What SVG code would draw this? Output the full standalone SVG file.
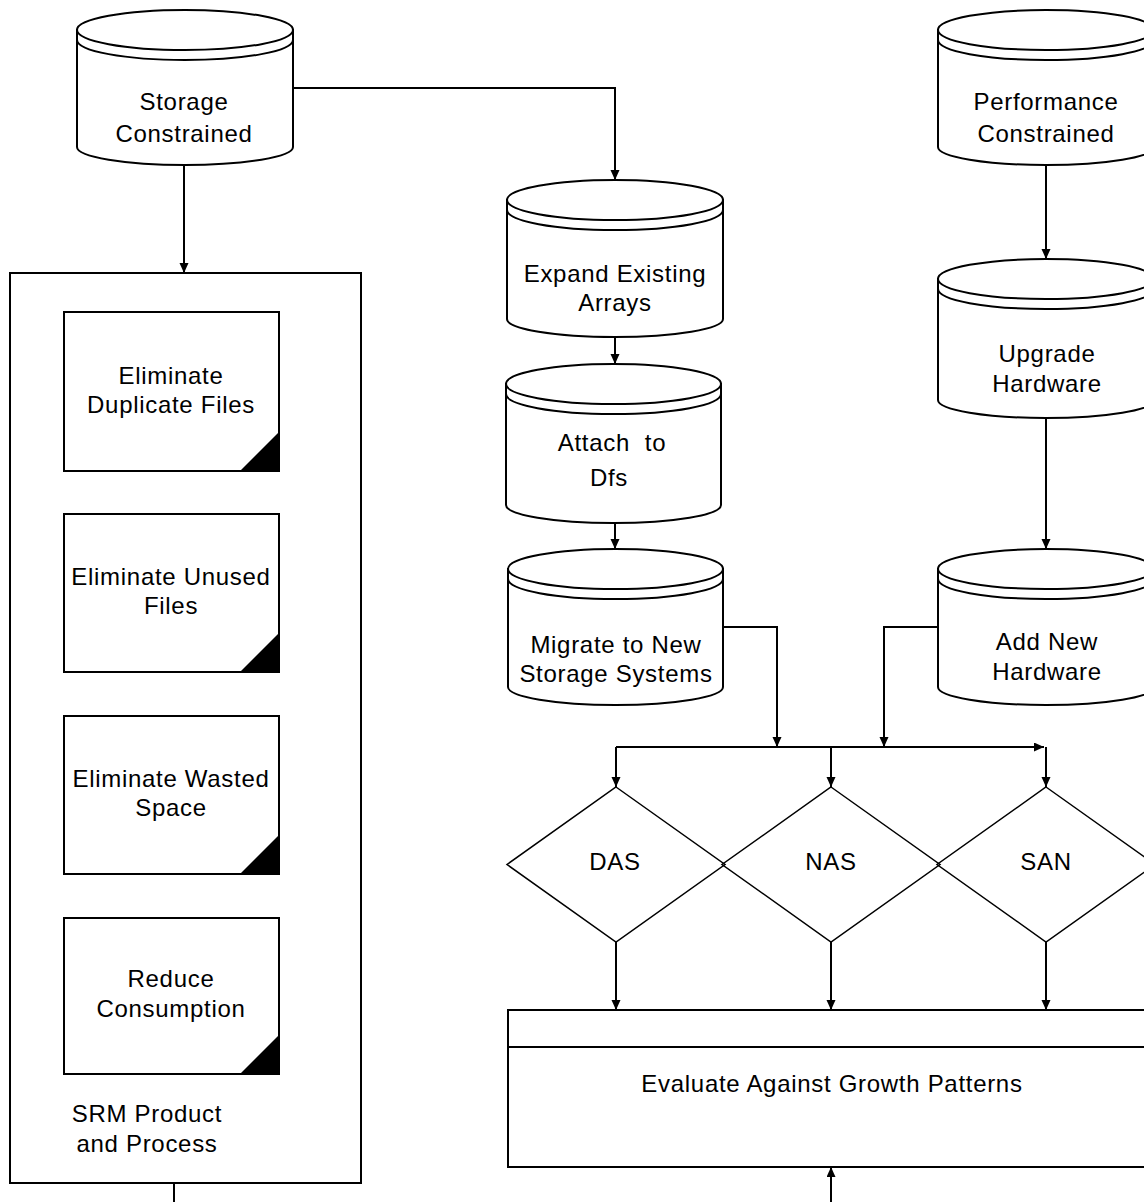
<svg xmlns="http://www.w3.org/2000/svg" width="1144" height="1202" viewBox="0 0 1144 1202">
<style>
.sh{fill:#fff;stroke:#000;stroke-width:2}
.ln{fill:none;stroke:#000;stroke-width:2}
.dm{fill:none;stroke:#000;stroke-width:1.5}
.cn{fill:none;stroke:#000;stroke-width:2;marker-end:url(#ah)}
.pl{fill:none;stroke:#000;stroke-width:2}
.t{font-family:"Liberation Sans",Arial,sans-serif;font-size:24px;letter-spacing:0.7px;text-anchor:middle;fill:#000;white-space:pre}
</style>
<defs>
<marker id="ah" markerUnits="userSpaceOnUse" markerWidth="11" markerHeight="10" refX="10" refY="4.5" orient="auto">
<path d="M0,0 L10,4.5 L0,9 Z" fill="#000"/>
</marker>
</defs>
<rect x="0" y="0" width="1144" height="1202" fill="#fff"/>

<g id="storage-constrained">
<path class="sh" d="M77,30 V147 A108,18 0 0 0 293,147 V30 Z"/>
<ellipse class="sh" cx="185" cy="30" rx="108" ry="20"/>
<path class="ln" d="M77,40 A108,20 0 0 0 293,40"/>
<text class="t" x="184" y="110">Storage</text>
<text class="t" x="184" y="142">Constrained</text>
</g>

<g id="performance-constrained">
<path class="sh" d="M938,30 V147 A108,18 0 0 0 1154,147 V30 Z"/>
<ellipse class="sh" cx="1046" cy="30" rx="108" ry="20"/>
<path class="ln" d="M938,40 A108,20 0 0 0 1154,40"/>
<text class="t" x="1046" y="110">Performance</text>
<text class="t" x="1046" y="142">Constrained</text>
</g>

<g id="expand-existing-arrays">
<path class="sh" d="M507,200 V319 A108,18 0 0 0 723,319 V200 Z"/>
<ellipse class="sh" cx="615" cy="200" rx="108" ry="20"/>
<path class="ln" d="M507,210 A108,20 0 0 0 723,210"/>
<text class="t" x="615" y="282">Expand Existing</text>
<text class="t" x="615" y="311">Arrays</text>
</g>

<g id="attach-to-dfs">
<path class="sh" d="M506,384 V505 A107.5,18 0 0 0 721,505 V384 Z"/>
<ellipse class="sh" cx="613.5" cy="384" rx="107.5" ry="20"/>
<path class="ln" d="M506,394 A107.5,20 0 0 0 721,394"/>
<text class="t" x="612" y="451">Attach  to</text>
<text class="t" x="609" y="486">Dfs</text>
</g>

<g id="migrate-to-new-storage-systems">
<path class="sh" d="M508,569 V687 A107.5,18 0 0 0 723,687 V569 Z"/>
<ellipse class="sh" cx="615.5" cy="569" rx="107.5" ry="20"/>
<path class="ln" d="M508,579 A107.5,20 0 0 0 723,579"/>
<text class="t" x="616" y="653">Migrate to New</text>
<text class="t" x="616" y="682">Storage Systems</text>
</g>

<g id="upgrade-hardware">
<path class="sh" d="M938,279 V400 A108,18 0 0 0 1154,400 V279 Z"/>
<ellipse class="sh" cx="1046" cy="279" rx="108" ry="20"/>
<path class="ln" d="M938,289 A108,20 0 0 0 1154,289"/>
<text class="t" x="1047" y="362">Upgrade</text>
<text class="t" x="1047" y="392">Hardware</text>
</g>

<g id="add-new-hardware">
<path class="sh" d="M938,569 V687 A108,18 0 0 0 1154,687 V569 Z"/>
<ellipse class="sh" cx="1046" cy="569" rx="108" ry="20"/>
<path class="ln" d="M938,579 A108,20 0 0 0 1154,579"/>
<text class="t" x="1047" y="650">Add New</text>
<text class="t" x="1047" y="680">Hardware</text>
</g>

<g id="srm-product-and-process">
<rect class="sh" x="10" y="273" width="351" height="910"/>
<text class="t" x="147" y="1122">SRM Product</text>
<text class="t" x="147" y="1152">and Process</text>
</g>

<g id="eliminate-duplicate-files">
<rect class="sh" x="64" y="312" width="215" height="159"/>
<path d="M240,471 L279,432 L279,471 Z" fill="#000"/>
<text class="t" x="171" y="384">Eliminate</text>
<text class="t" x="171" y="413">Duplicate Files</text>
</g>

<g id="eliminate-unused-files">
<rect class="sh" x="64" y="514" width="215" height="158"/>
<path d="M240,672 L279,633 L279,672 Z" fill="#000"/>
<text class="t" x="171" y="585">Eliminate Unused</text>
<text class="t" x="171" y="614">Files</text>
</g>

<g id="eliminate-wasted-space">
<rect class="sh" x="64" y="716" width="215" height="158"/>
<path d="M240,874 L279,835 L279,874 Z" fill="#000"/>
<text class="t" x="171" y="787">Eliminate Wasted</text>
<text class="t" x="171" y="816">Space</text>
</g>

<g id="reduce-consumption">
<rect class="sh" x="64" y="918" width="215" height="156"/>
<path d="M240,1074 L279,1035 L279,1074 Z" fill="#000"/>
<text class="t" x="171" y="987">Reduce</text>
<text class="t" x="171" y="1017">Consumption</text>
</g>

<g id="das">
<polygon class="dm" points="616,787 725,864.5 616,942 507,864.5"/>
<text class="t" x="615" y="870">DAS</text>
</g>

<g id="nas">
<polygon class="dm" points="831,787 940,864.5 831,942 722,864.5"/>
<text class="t" x="831" y="870">NAS</text>
</g>

<g id="san">
<polygon class="dm" points="1046,787 1155,864.5 1046,942 937,864.5"/>
<text class="t" x="1046" y="870">SAN</text>
</g>

<g id="evaluate-against-growth-patterns">
<rect class="sh" x="508" y="1010" width="650" height="157"/>
<line class="ln" x1="508" y1="1047" x2="1158" y2="1047"/>
<text class="t" x="832" y="1092">Evaluate Against Growth Patterns</text>
</g>

<g id="connectors">
<path class="cn" d="M293,88 H615 V180"/>
<path class="cn" d="M184,166 V273"/>
<path class="cn" d="M615,338 V364"/>
<path class="cn" d="M615,523 V549"/>
<path class="cn" d="M723,627 H777 V747"/>
<path class="cn" d="M938,627 H884 V747"/>
<path class="cn" d="M616,747 H1044"/>
<path class="cn" d="M1046,747 V787"/>
<path class="cn" d="M616,747 V787"/>
<path class="cn" d="M831,747 V787"/>
<path class="cn" d="M616,942 V1010"/>
<path class="cn" d="M831,942 V1010"/>
<path class="cn" d="M1046,942 V1010"/>
<path class="cn" d="M831,1202 V1167"/>
<path class="cn" d="M1046,166 V259"/>
<path class="cn" d="M1046,418 V549"/>
<path class="pl" d="M174,1183 V1202"/>
</g>
</svg>
